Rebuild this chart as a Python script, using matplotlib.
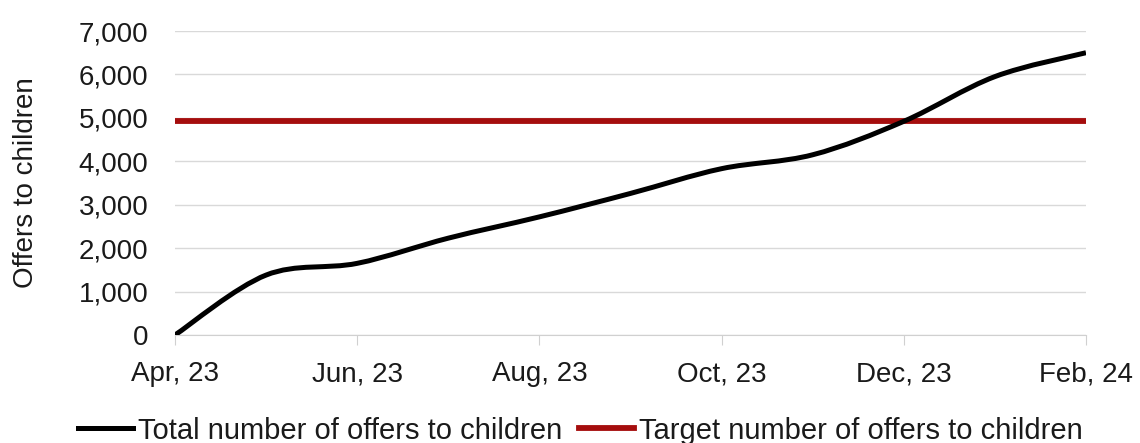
import matplotlib
matplotlib.use("Agg")
import matplotlib.pyplot as plt
from matplotlib.path import Path
from matplotlib.patches import PathPatch
from matplotlib.lines import Line2D
from matplotlib.ticker import FuncFormatter

# Data
months = ["Apr, 23", "May, 23", "Jun, 23", "Jul, 23", "Aug, 23", "Sep, 23",
          "Oct, 23", "Nov, 23", "Dec, 23", "Jan, 24", "Feb, 24"]
total_offers = [0, 1380, 1650, 2230, 2720, 3260, 3830, 4150, 4920, 5950, 6500]
target_offers = 4920

plt.rcParams['font.family'] = ['Liberation Sans', 'DejaVu Sans']
FS = 20
TXT = '#1a1a1a'
RED = '#A50D0D'

fig = plt.figure(figsize=(11.4, 4.43), dpi=100)
ax = fig.add_axes([0.1535, 0.2438, 0.7991, 0.6862])

x = list(range(len(months)))

# smooth line like the spreadsheet, drawn as bezier segments through the points
verts = [(x[0], total_offers[0])]
codes = [Path.MOVETO]
n = len(x)
for i in range(n - 1):
    p0 = (x[max(i - 1, 0)], total_offers[max(i - 1, 0)])
    p1 = (x[i], total_offers[i])
    p2 = (x[i + 1], total_offers[i + 1])
    p3 = (x[min(i + 2, n - 1)], total_offers[min(i + 2, n - 1)])
    c1 = (p1[0] + (p2[0] - p0[0]) / 6, p1[1] + (p2[1] - p0[1]) / 6)
    c2 = (p2[0] - (p3[0] - p1[0]) / 6, p2[1] - (p3[1] - p1[1]) / 6)
    verts += [c1, c2, p2]
    codes += [Path.CURVE4] * 3
ax.add_patch(PathPatch(Path(verts, codes), fill=False, edgecolor='black',
                       lw=3.6, capstyle='butt', zorder=4))

ax.plot([x[0], x[-1]], [target_offers, target_offers], color=RED,
        lw=4.2, zorder=3, solid_capstyle='butt')

ax.set_xlim(x[0], x[-1])
ax.set_ylim(0, 7000)
ax.set_yticks(range(0, 7001, 1000))
ax.yaxis.set_major_formatter(FuncFormatter(lambda v, p: f"{int(v):,}"))
ax.set_xticks(x[::2])
ax.set_xticklabels(months[::2])

ax.grid(axis='y', color='#D9D9D9', lw=1)
ax.set_axisbelow(True)
for s in ['top', 'right', 'left']:
    ax.spines[s].set_visible(False)
ax.spines['bottom'].set_color('#D0D0D0')
ax.tick_params(axis='x', length=7, color='#D0D0D0', pad=12, labelsize=FS,
               labelcolor=TXT)
ax.tick_params(axis='y', length=0, pad=19, labelsize=FS, labelcolor=TXT)
ax.set_ylabel("Offers to children", fontsize=FS, color=TXT, labelpad=29)

handles = [Line2D([], [], color='black', lw=3.6),
           Line2D([], [], color=RED, lw=4.2)]
fig.legend(handles, ["Total number of offers to children",
                     "Target number of offers to children"],
           loc='center', bbox_to_anchor=(0.509, 0.028), ncol=2,
           frameon=False, fontsize=21, handlelength=1.9, handletextpad=0.18,
           columnspacing=0.55, labelcolor=TXT, borderpad=0)

fig.savefig("out.png", dpi=100)
